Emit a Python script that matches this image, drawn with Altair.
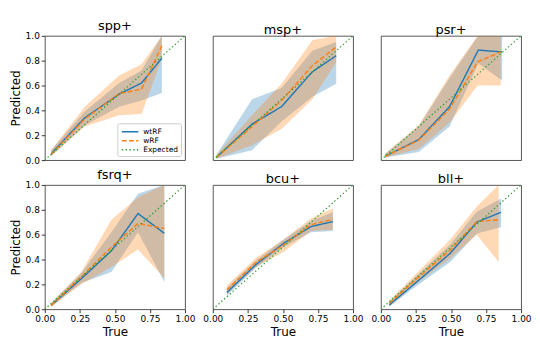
import altair as alt
import pandas as pd

PANELS = ["spp+", "msp+", "psr+", "fsrq+", "bcu+", "bll+"]
MODELS = ["wtRF", "wRF", "Expected"]
X_TICKS = [0, 0.25, 0.5, 0.75, 1.0]
Y_TICKS = [0, 0.2, 0.4, 0.6, 0.8, 1.0]
EXPECTED_X = [0.0, 1.0]
EXPECTED_Y = [0.0, 1.0]

# spp+
SPP_X = [0.045, 0.285, 0.53, 0.69, 0.835]
SPP_WT = [0.05, 0.34, 0.53, 0.62, 0.82]
SPP_WT_LO = [0.03, 0.28, 0.43, 0.48, 0.54]
SPP_WT_HI = [0.08, 0.39, 0.62, 0.72, 1.0]
SPP_W = [0.045, 0.33, 0.535, 0.57, 0.92]
SPP_W_LO = [0.03, 0.27, 0.36, 0.37, 0.82]
SPP_W_HI = [0.08, 0.43, 0.68, 0.77, 1.0]

# msp+
MSP_X = [0.025, 0.28, 0.49, 0.71, 0.88]
MSP_WT = [0.02, 0.29, 0.43, 0.71, 0.84]
MSP_WT_LO = [0.01, 0.08, 0.31, 0.51, 0.615]
MSP_WT_HI = [0.04, 0.49, 0.58, 0.88, 0.95]
MSP_W = [0.02, 0.27, 0.48, 0.76, 0.91]
MSP_W_LO = [0.01, 0.12, 0.25, 0.49, 0.79]
MSP_W_HI = [0.04, 0.36, 0.615, 0.965, 1.0]

# psr+
PSR_X = [0.03, 0.27, 0.49, 0.695, 0.865]
PSR_WT = [0.03, 0.165, 0.43, 0.885, 0.87]
PSR_WT_LO = [0.02, 0.065, 0.27, 0.78, 0.64]
PSR_WT_HI = [0.05, 0.27, 0.66, 1.0, 1.0]
PSR_XW = [0.03, 0.27, 0.49, 0.69, 0.855]
PSR_W = [0.03, 0.16, 0.41, 0.79, 0.87]
PSR_W_LO = [0.02, 0.09, 0.30, 0.60, 0.60]
PSR_W_HI = [0.05, 0.28, 0.68, 1.0, 1.0]

# fsrq+
FSRQ_X = [0.045, 0.26, 0.475, 0.665, 0.853]
FSRQ_WT = [0.03, 0.245, 0.47, 0.77, 0.61]
FSRQ_WT_LO = [0.02, 0.21, 0.30, 0.62, 0.22]
FSRQ_WT_HI = [0.05, 0.29, 0.62, 0.93, 1.0]
FSRQ_W = [0.03, 0.26, 0.50, 0.69, 0.65]
FSRQ_W_LO = [0.02, 0.20, 0.34, 0.48, 0.25]
FSRQ_W_HI = [0.05, 0.30, 0.72, 0.90, 1.0]

# bcu+
BCU_X = [0.10, 0.305, 0.505, 0.70, 0.856]
BCU_WT = [0.134, 0.357, 0.53, 0.665, 0.705]
BCU_WT_LO = [0.11, 0.33, 0.50, 0.62, 0.63]
BCU_WT_HI = [0.17, 0.39, 0.56, 0.71, 0.78]
BCU_W = [0.155, 0.375, 0.517, 0.68, 0.724]
BCU_W_LO = [0.12, 0.34, 0.46, 0.63, 0.64]
BCU_W_HI = [0.19, 0.41, 0.56, 0.73, 0.81]

# bll+
BLL_X = [0.06, 0.246, 0.495, 0.684, 0.857]
BLL_WT = [0.035, 0.21, 0.45, 0.70, 0.78]
BLL_WT_LO = [0.02, 0.18, 0.38, 0.61, 0.66]
BLL_WT_HI = [0.06, 0.26, 0.52, 0.785, 0.89]
BLL_XW = [0.06, 0.246, 0.495, 0.684, 0.84]
BLL_W = [0.048, 0.236, 0.477, 0.705, 0.72]
BLL_W_LO = [0.02, 0.20, 0.41, 0.60, 0.38]
BLL_W_HI = [0.07, 0.28, 0.56, 0.826, 1.0]

SERIES = [
    ("spp+", SPP_X, SPP_WT, SPP_WT_LO, SPP_WT_HI, SPP_X, SPP_W, SPP_W_LO, SPP_W_HI),
    ("msp+", MSP_X, MSP_WT, MSP_WT_LO, MSP_WT_HI, MSP_X, MSP_W, MSP_W_LO, MSP_W_HI),
    ("psr+", PSR_X, PSR_WT, PSR_WT_LO, PSR_WT_HI, PSR_XW, PSR_W, PSR_W_LO, PSR_W_HI),
    ("fsrq+", FSRQ_X, FSRQ_WT, FSRQ_WT_LO, FSRQ_WT_HI, FSRQ_X, FSRQ_W, FSRQ_W_LO, FSRQ_W_HI),
    ("bcu+", BCU_X, BCU_WT, BCU_WT_LO, BCU_WT_HI, BCU_X, BCU_W, BCU_W_LO, BCU_W_HI),
    ("bll+", BLL_X, BLL_WT, BLL_WT_LO, BLL_WT_HI, BLL_XW, BLL_W, BLL_W_LO, BLL_W_HI),
]

rows = []
for p, xa, wt, wtlo, wthi, xb, w, wlo, whi in SERIES:
    for i in range(len(xa)):
        rows.append(dict(panel=p, model="wtRF", x=xa[i], y=wt[i], lo=wtlo[i], hi=wthi[i]))
    for i in range(len(xb)):
        rows.append(dict(panel=p, model="wRF", x=xb[i], y=w[i], lo=wlo[i], hi=whi[i]))
    for x, y in zip(EXPECTED_X, EXPECTED_Y):
        rows.append(dict(panel=p, model="Expected", x=x, y=y, lo=y, hi=y))
df = pd.DataFrame(rows)

COLORS = ["#1f77b4", "#ff7f0e", "#2ca02c"]
DASHES = [[1, 0], [5, 2.2], [1.4, 2.4]]
FONT = "DejaVu Sans"
W, H = 141, 125
LEGEND_SYMBOL = "M-0.9,0L2.8,0"


def make_panel(name, idx):
    col, row = idx % 3, idx // 3
    d = df[df.panel == name]
    left = col == 0
    bottom = row == 1
    xs = alt.Scale(domain=[0, 1], nice=False)
    ys = alt.Scale(domain=[0, 1], nice=False)
    xax = alt.Axis(values=X_TICKS, format=".2f", labels=bottom, ticks=bottom,
                   labelFlush=False, labelOverlap=False)
    yax = alt.Axis(values=Y_TICKS, format=".1f", labels=left, ticks=left,
                   labelFlush=False, labelOverlap=False)
    X = alt.X("x:Q", scale=xs, axis=xax, title="True" if bottom else "")
    Y = alt.Y("y:Q", scale=ys, axis=yax, title="Predicted" if left else "")
    YLO = alt.Y("lo:Q", scale=ys, axis=yax, title="Predicted" if left else "")

    if idx == 0:
        leg = alt.Legend(title=None, orient="bottom-right", offset=4,
                         fillColor="white", strokeColor="#cccccc", padding=3,
                         cornerRadius=2, labelFontSize=7.5, labelFont=FONT,
                         labelColor="black",
                         symbolSize=81, symbolStrokeWidth=1.5, rowPadding=0,
                         symbolType=LEGEND_SYMBOL, labelOffset=12)
    else:
        leg = None
    color = alt.Color("model:N", scale=alt.Scale(domain=MODELS, range=COLORS), legend=leg)
    dash = alt.StrokeDash("model:N", scale=alt.Scale(domain=MODELS, range=DASHES), legend=leg)

    def sub(model):
        return alt.Chart(d).transform_filter(alt.datum.model == model)

    layers = []
    for m, c in (("wtRF", COLORS[0]), ("wRF", COLORS[1])):
        layers.append(sub(m).mark_area(clip=True, opacity=0.3, color=c).encode(
            x=X, y=YLO, y2="hi:Q"))
    for m in ("wtRF", "wRF"):
        layers.append(sub(m).mark_line(clip=True, strokeWidth=1.4).encode(
            x=X, y=Y, color=color, strokeDash=dash))
    layers.append(sub("Expected").mark_line(clip=True, strokeWidth=1.2).encode(
        x=X, y=Y, color=color, strokeDash=dash))

    return alt.layer(*layers).properties(
        width=W, height=H,
        title=alt.TitleParams(text=name, fontSize=13, font=FONT,
                              fontWeight="normal", offset=-1, color="black"),
    )


panels = [make_panel(n, i) for i, n in enumerate(PANELS)]

chart = alt.ConcatChart(
    concat=panels, columns=3, spacing={"row": 25, "column": 28}, bounds="flush",
).resolve_scale(
    color="independent", strokeDash="independent"
).resolve_legend(
    color="independent", strokeDash="independent"
).properties(
    padding={"left": 0, "top": 10, "right": 0, "bottom": 0}
).configure_view(
    stroke="#444444", strokeWidth=0.9
).configure_axis(
    domain=False, grid=False, tickColor="#222222", tickSize=3.5, tickWidth=0.9,
    labelFont=FONT, labelFontSize=9, labelColor="black", labelPadding=2,
    titleFont=FONT, titleFontSize=12, titleFontWeight="normal", titleColor="black",
    titlePadding=3,
)

chart.save("out.html", embed_options={"renderer": "svg", "actions": False})
